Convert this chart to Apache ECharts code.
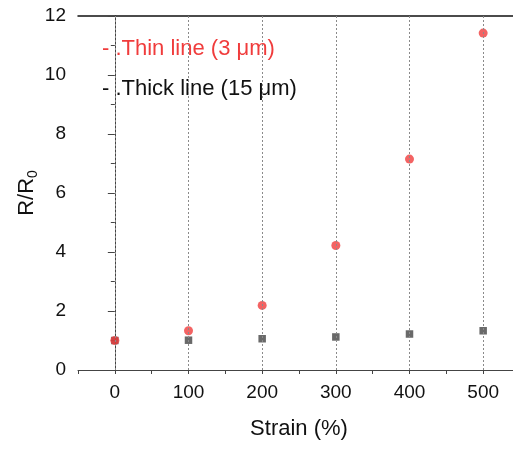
<!DOCTYPE html>
<html lang="en" style="height: 100%">
<head>
  <meta charset="UTF-8" />
  <title>R/R0 vs strain</title>
  <script src="https://cdn.jsdelivr.net/npm/echarts@6/dist/echarts.min.js"></script>
</head>
<body style="height: 100%; margin: 0; background: #fff">
  <div id="main" style="width: 513px; height: 450px"></div>
  <script type="text/javascript">
    // data
    var strain = [0, 100, 200, 300, 400, 500];
    var thinLine = [1.0, 1.33, 2.19, 4.22, 7.15, 11.42];   // 3 um, red circles
    var thickLine = [1.0, 1.01, 1.06, 1.12, 1.22, 1.33];   // 15 um, dark squares
    var thinName = 'Thin line (3 μm)';
    var thickName = 'Thick line (15 μm)';

    var font = 'Liberation Sans, Arial, sans-serif';
    var myChart = echarts.init(document.getElementById('main'));

    function pairs(xs, ys) {
      return xs.map(function (x, i) { return [x, ys[i]]; });
    }

    var option = {
      animation: false,
      textStyle: { fontFamily: font },
      grid: { left: 78, top: 16, right: -7, bottom: 80, outerBoundsMode: 'none', containLabel: false },
      legend: {
        orient: 'vertical',
        left: 92,
        top: 33,
        itemWidth: 0,
        itemHeight: 0,
        itemGap: 18,
        formatter: '- .{name}',
        textStyle: { fontSize: 22, fontFamily: font },
        data: [
          { name: thinName, textStyle: { color: '#f03c3c' } },
          { name: thickName, textStyle: { color: '#111' } }
        ]
      },
      xAxis: [
        {
          type: 'value',
          min: -50,
          max: 550,
          interval: 50,
          offset: 3,
          name: 'Strain (%)',
          nameLocation: 'middle',
          nameGap: 45,
          nameMoveOverlap: false,
          nameTextStyle: { fontSize: 22, color: '#111', fontFamily: font },
          axisLine: { lineStyle: { color: '#444', width: 1 } },
          axisTick: { show: true, length: 4, lineStyle: { color: '#444' } },
          axisLabel: {
            fontSize: 19,
            color: '#111',
            margin: 10,
            formatter: function (v) { return (v >= 0 && v % 100 === 0) ? v : ''; }
          },
          splitLine: { show: false }
        },
        {
          type: 'value',
          position: 'top',
          min: -50,
          max: 550,
          axisLine: { lineStyle: { color: '#111', width: 1.5 } },
          axisTick: { show: false },
          axisLabel: { show: false },
          splitLine: { show: false }
        }
      ],
      yAxis: {
        type: 'value',
        min: 0,
        max: 12,
        interval: 2,
        name: '{a|R/R}{s|0}',
        nameLocation: 'middle',
        nameGap: 38,
        nameRotate: 90,
        nameMoveOverlap: false,
        nameTextStyle: {
          color: '#111',
          rich: {
            a: { fontSize: 22, color: '#111', fontFamily: font, lineHeight: 26 },
            s: { fontSize: 14, color: '#111', fontFamily: font, lineHeight: 14, verticalAlign: 'bottom' }
          }
        },
        axisLine: { show: true, lineStyle: { color: '#444', width: 1 } },
        axisTick: { show: true, length: 7, lineStyle: { color: '#444' } },
        minorTick: { show: true, splitNumber: 2, length: 4, lineStyle: { color: '#444' } },
        axisLabel: { fontSize: 19, color: '#111', margin: 12 },
        splitLine: { show: false }
      },
      series: [
        {
          // holds the dashed vertical grid lines at the labelled strains
          type: 'line',
          data: [],
          z: 1,
          silent: true,
          markLine: {
            silent: true,
            symbol: 'none',
            label: { show: false },
            lineStyle: { type: [2, 2], color: '#8a8a8a', width: 1 },
            data: strain.map(function (v) { return { xAxis: v }; })
          }
        },
        {
          name: thickName,
          type: 'scatter',
          symbol: 'rect',
          symbolSize: 7.5,
          itemStyle: { color: '#444' },
          z: 3,
          data: pairs(strain, thickLine)
        },
        {
          name: thinName,
          type: 'scatter',
          symbol: 'circle',
          symbolSize: 9,
          itemStyle: { color: '#f03c3c' },
          z: 4,
          data: pairs(strain, thinLine)
        }
      ]
    };

    if (option && typeof option === 'object') {
      myChart.setOption(option);
    }
    window.addEventListener('resize', myChart.resize);
  </script>
</body>
</html>
